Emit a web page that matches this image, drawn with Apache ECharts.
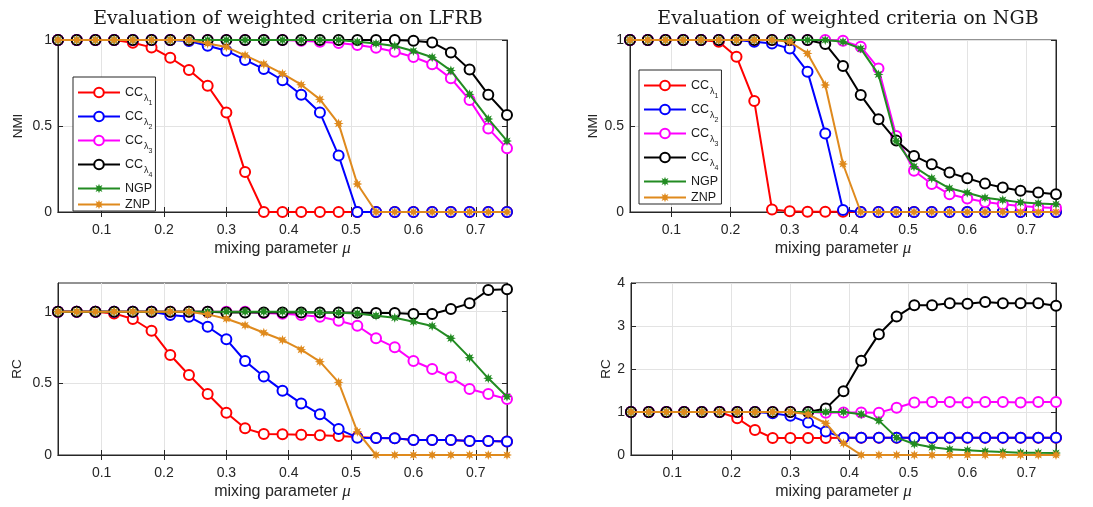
<!DOCTYPE html>
<html><head><meta charset="utf-8">
<script src="https://cdn.jsdelivr.net/npm/echarts@6.0.0/dist/echarts.min.js"></script>
<style>html,body{margin:0;padding:0;background:#fff}#c{width:1093px;height:507px}</style>
</head><body><div id="c"></div>
<script>
// mixing parameter values (x)
const mu = [0.03,0.06,0.09,0.12,0.15,0.18,0.21,0.24,0.27,0.30,0.33,0.36,0.39,0.42,0.45,0.48,0.51,0.54,0.57,0.60,0.63,0.66,0.69,0.72,0.75];
const xTicks = [0.1,0.2,0.3,0.4,0.5,0.6,0.7];
const seriesNames = ['CCλ1','CCλ2','CCλ3','CCλ4','NGP','ZNP'];
const titles = ['Evaluation of weighted criteria on LFRB','Evaluation of weighted criteria on NGB'];
const yNames = ['NMI','NMI','RC','RC'];
const yMax = [1,1,1.2,4];
const yTicksNmi = [0,0.5,1];
const yTicksRcLfrb = [0,0.5,1];
const yTicksRcNgb = [0,1,2,3,4];

// LFRB - NMI
const lfrbNmiCC1 = [1,1,1,1,0.984,0.957,0.897,0.826,0.734,0.578,0.233,0,0,0,0,0,0,0,0,0,0,0,0,0,0];
const lfrbNmiCC2 = [1,1,1,1,1,1,1,0.994,0.967,0.938,0.884,0.831,0.766,0.682,0.578,0.328,0,0,0,0,0,0,0,0,0];
const lfrbNmiCC3 = [1,1,1,1,1,1,1,1,1,1,1,1,1,0.996,0.99,0.982,0.971,0.955,0.932,0.901,0.859,0.777,0.651,0.486,0.37];
const lfrbNmiCC4 = [1,1,1,1,1,1,1,1,1,1,1,1,1,1,1,1,1,1,1,0.996,0.986,0.928,0.828,0.682,0.564];
const lfrbNmiNGP = [1,1,1,1,1,1,1,1,1,1,1,1,1,1,1,1,0.99,0.98,0.965,0.936,0.9,0.822,0.684,0.541,0.413];
const lfrbNmiZNP = [1,1,1,1,1,1,1,1,0.98,0.959,0.911,0.86,0.804,0.74,0.655,0.514,0.163,0,0,0,0,0,0,0,0];

// NGB - NMI
const ngbNmiCC1 = [1,1,1,1,1,0.99,0.903,0.645,0.015,0.004,0.002,0.002,0.001,0,0,0,0,0,0,0,0,0,0,0,0];
const ngbNmiCC2 = [1,1,1,1,1,1,1,0.99,0.98,0.95,0.816,0.457,0.012,0,0,0,0,0,0,0,0,0,0,0,0];
const ngbNmiCC3 = [1,1,1,1,1,1,1,1,1,1,1,1,0.995,0.961,0.835,0.442,0.24,0.163,0.103,0.078,0.058,0.045,0.035,0.027,0.023];
const ngbNmiCC4 = [1,1,1,1,1,1,1,1,1,1,1,0.977,0.849,0.68,0.539,0.415,0.326,0.277,0.229,0.196,0.165,0.143,0.124,0.114,0.103];
const ngbNmiNGP = [1,1,1,1,1,1,1,1,1,1,1,1,0.99,0.95,0.80,0.413,0.264,0.196,0.138,0.112,0.083,0.07,0.056,0.05,0.045];
const ngbNmiZNP = [1,1,1,1,1,1,1,1,1,0.99,0.922,0.738,0.279,0,0,0,0,0,0,0,0,0,0,0,0];

// LFRB - RC
const lfrbRcCC1 = [1,1,1,0.988,0.949,0.867,0.698,0.558,0.426,0.295,0.186,0.147,0.144,0.142,0.137,0.133,0.126,0.119,0.117,0.105,0.105,0.104,0.098,0.098,0.095];
const lfrbRcCC2 = [1,1,1,1,1,1,0.977,0.965,0.895,0.807,0.656,0.547,0.449,0.36,0.284,0.181,0.121,0.119,0.117,0.105,0.105,0.104,0.098,0.098,0.095];
const lfrbRcCC3 = [1,1,1,1,1,1,1,1,1,1,1,0.99,0.985,0.977,0.965,0.937,0.902,0.814,0.751,0.656,0.6,0.542,0.46,0.426,0.391];
const lfrbRcCC4 = [1,1,1,1,1,1,1,1,1,0.995,0.995,0.995,0.995,0.995,0.995,0.995,0.993,0.99,0.99,0.984,0.984,1.019,1.058,1.151,1.156];
const lfrbRcNGP = [1,1,1,1,1,1,1,1,1,1,1,1,1,1,0.995,0.993,0.988,0.972,0.958,0.93,0.9,0.814,0.679,0.535,0.407];
const lfrbRcZNP = [1,1,1,1,1,1,1,1,0.981,0.951,0.905,0.853,0.802,0.735,0.651,0.507,0.163,0,0,0,0,0,0,0,0];

// NGB - RC
const ngbRcCC1 = [1,1,1,1,1,1,0.854,0.583,0.396,0.396,0.396,0.396,0.4,0.4,0.4,0.4,0.4,0.4,0.4,0.4,0.4,0.4,0.4,0.4,0.4];
const ngbRcCC2 = [1,1,1,1,1,1,1,1,0.97,0.91,0.753,0.544,0.404,0.404,0.404,0.404,0.404,0.404,0.404,0.404,0.404,0.404,0.404,0.404,0.404];
const ngbRcCC3 = [1,1,1,1,1,1,1,1,1,1,1,0.985,0.99,0.99,0.985,1.1,1.22,1.23,1.23,1.22,1.23,1.23,1.22,1.23,1.23];
const ngbRcCC4 = [1,1,1,1,1,1,1,1,1,1,1,1.08,1.48,2.19,2.81,3.22,3.48,3.48,3.53,3.52,3.56,3.53,3.53,3.53,3.47];
const ngbRcNGP = [1,1,1,1,1,1,1,1,1,1,1,1,1,0.95,0.8,0.404,0.256,0.179,0.132,0.109,0.085,0.07,0.054,0.05,0.047];
const ngbRcZNP = [1,1,1,1,1,1,1,1,1,1,0.946,0.738,0.272,0,0,0,0,0,0,0,0,0,0,0,0];

const panels = [
  [lfrbNmiCC1,lfrbNmiCC2,lfrbNmiCC3,lfrbNmiCC4,lfrbNmiNGP,lfrbNmiZNP],
  [ngbNmiCC1,ngbNmiCC2,ngbNmiCC3,ngbNmiCC4,ngbNmiNGP,ngbNmiZNP],
  [lfrbRcCC1,lfrbRcCC2,lfrbRcCC3,lfrbRcCC4,lfrbRcNGP,lfrbRcZNP],
  [ngbRcCC1,ngbRcCC2,ngbRcCC3,ngbRcCC4,ngbRcNGP,ngbRcZNP]
];
const yTicks = [yTicksNmi, yTicksNmi, yTicksRcLfrb, yTicksRcNgb];

const colors = ['#ff0000','#0000ff','#ff00ff','#000000','#228b22','#df8a1d'];

function starPath(n, ri) {
  let d = '';
  for (let k = 0; k < 2*n; k++) {
    const r = k % 2 === 0 ? 1 : ri;
    const a = Math.PI * k / n - Math.PI/2;
    d += (k === 0 ? 'M' : 'L') + (r*Math.cos(a)).toFixed(3) + ' ' + (r*Math.sin(a)).toFixed(3) + ' ';
  }
  return 'path://' + d + 'Z';
}
const star = starPath(8, 0.5);

const SANS = 'Liberation Sans, Arial, Helvetica, sans-serif';
const TXT = '#262626';

const grids = [
  {left:58, top:40, width:449, height:172},
  {left:630, top:40, width:426, height:172},
  {left:58, top:283, width:449, height:172},
  {left:631, top:283, width:425, height:172}
];
const yNameGap = [33, 30, 34, 18];

const xAxes = [], yAxes = [], series = [];
grids.forEach((g, i) => {
  xAxes.push({
    gridIndex: i, type: 'value', min: 0.03, max: 0.75,
    name: 'mixing parameter {i|μ}', nameLocation: 'middle', nameGap: 28,
    nameTextStyle: {fontFamily: SANS, fontSize: 16, color: TXT,
      rich: {i: {fontFamily: 'Liberation Serif, serif', fontStyle: 'italic', fontSize: 17, color: TXT}}},
    axisLine: {show: true, lineStyle: {color: TXT, width: 1}},
    axisTick: {show: true, inside: true, length: 5, customValues: xTicks, lineStyle: {color: TXT}},
    axisLabel: {customValues: xTicks, fontFamily: SANS, fontSize: 14, color: TXT, margin: 11,
      formatter: v => String(Math.round(v*10)/10)},
    splitLine: {show: true, lineStyle: {color: '#e3e3e3', width: 1}}
  });
  yAxes.push({
    gridIndex: i, type: 'value', min: 0, max: yMax[i],
    name: yNames[i], nameLocation: 'middle', nameGap: yNameGap[i], nameRotate: 90,
    nameTextStyle: {fontFamily: SANS, fontSize: 13.5, color: TXT},
    axisLine: {show: true, lineStyle: {color: TXT, width: 1}},
    axisTick: {show: true, inside: true, length: 5, customValues: yTicks[i], lineStyle: {color: TXT}},
    axisLabel: {customValues: yTicks[i], fontFamily: SANS, fontSize: 14, color: TXT, margin: 6},
    splitLine: {show: true, lineStyle: {color: '#e3e3e3', width: 1}}
  });
});
// box (top / right) axes
grids.forEach((g, i) => {
  xAxes.push({
    gridIndex: i, type: 'value', min: 0.03, max: 0.75, position: 'top',
    axisLine: {show: true, lineStyle: {color: TXT, width: 1}},
    axisTick: {show: true, inside: true, length: 5, customValues: xTicks, lineStyle: {color: TXT}},
    axisLabel: {show: false}, splitLine: {show: false}
  });
  yAxes.push({
    gridIndex: i, type: 'value', min: 0, max: yMax[i], position: 'right',
    axisLine: {show: true, lineStyle: {color: TXT, width: 1}},
    axisTick: {show: true, inside: true, length: 5, customValues: yTicks[i], lineStyle: {color: TXT}},
    axisLabel: {show: false}, splitLine: {show: false}
  });
});

panels.forEach((vals, i) => {
  vals.forEach((arr, s) => {
    const isCC = s < 4;
    series.push({
      type: 'line', name: seriesNames[s], xAxisIndex: i, yAxisIndex: i,
      data: mu.map((x, k) => [x, arr[k]]),
      symbol: isCC ? 'emptyCircle' : star,
      symbolSize: 10,
      showAllSymbol: true,
      lineStyle: {color: colors[s], width: 2},
      itemStyle: {color: colors[s], borderColor: colors[s], borderWidth: isCC ? 2 : 0},
      emphasis: {disabled: true},
      animation: false,
      z: 2 + s
    });
  });
});

const legendBase = {
  orient: 'vertical',
  itemWidth: 42, itemHeight: 12, itemGap: 3,
  padding: [9, 3, 0, 4],
  backgroundColor: '#ffffff',
  borderColor: TXT, borderWidth: 1, borderRadius: 0,
  data: seriesNames,
  selectedMode: false,
  formatter: name => name.indexOf('CC') === 0
      ? '{a|CC}{b|λ}{c|' + name.slice(3) + '}'
      : '{n|' + name + '}',
  textStyle: {
    fontFamily: SANS, color: '#1a1a1a',
    rich: {
      a: {fontFamily: SANS, fontSize: 12.5, lineHeight: 13, verticalAlign: 'top', color: '#1a1a1a'},
      b: {fontFamily: SANS, fontSize: 9, lineHeight: 10, verticalAlign: 'top', padding: [8,0,0,1], color: '#1a1a1a'},
      c: {fontFamily: SANS, fontSize: 7, lineHeight: 8, verticalAlign: 'top', padding: [14,0,0,0], color: '#1a1a1a'},
      n: {fontFamily: SANS, fontSize: 12.5, lineHeight: 14, color: '#1a1a1a'}
    }
  }
};

const TITLE_FONT = {fontFamily: 'DejaVu Serif, serif', fontSize: 19, fontWeight: 'normal', color: '#1a1a1a'};
const option = {
  backgroundColor: '#ffffff',
  animation: false,
  title: [
    {text: titles[0], left: 283, top: 5, textAlign: 'center', textStyle: TITLE_FONT},
    {text: titles[1], left: 843, top: 5, textAlign: 'center', textStyle: TITLE_FONT}
  ],
  grid: grids.map(g => Object.assign({show: true, borderColor: TXT, borderWidth: 1, backgroundColor: 'transparent'}, g)),
  xAxis: xAxes,
  yAxis: yAxes,
  legend: [
    Object.assign({left: 73, top: 77}, legendBase),
    Object.assign({left: 639, top: 70}, legendBase)
  ],
  series: series
};

const chart = echarts.init(document.getElementById('c'), null, {renderer: 'canvas'});
chart.setOption(option);
</script>
</body></html>
